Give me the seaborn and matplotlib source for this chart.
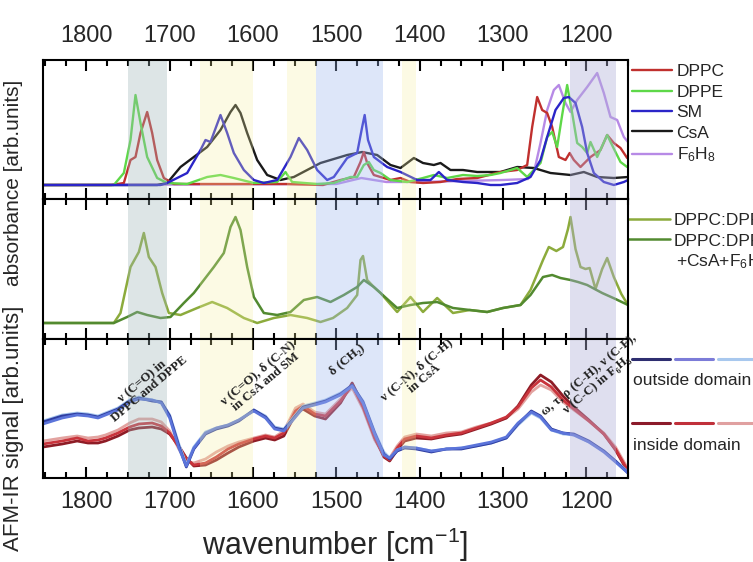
import numpy as np
import pandas as pd
import matplotlib
matplotlib.use("Agg")
import matplotlib.pyplot as plt
import seaborn as sns
from matplotlib.ticker import MultipleLocator
from matplotlib.lines import Line2D

# ---------------- top panel: absorbance of single components ----------------
dppc_wn = [1852, 1770, 1755, 1747, 1741, 1735, 1727, 1721, 1715, 1707, 1695, 1650, 1600, 1560, 1516, 1495,
           1479, 1471, 1467, 1463, 1455, 1435, 1423, 1411, 1396, 1375, 1355, 1331, 1303, 1283, 1271, 1265,
           1259, 1253, 1247, 1241, 1233, 1225, 1220, 1215, 1207, 1195, 1183, 1175, 1167, 1159, 1151]
dppc_val = [14, 14, 16, 39, 42, 66, 87, 66, 39, 21, 15, 15, 15, 15, 14, 19,
            22, 37, 47, 36, 24, 19, 21, 17, 16, 17, 20, 21, 27, 29, 34, 72,
            102, 89, 86, 72, 42, 39, 46, 39, 32, 42, 49, 64, 56, 51, 41]

dppe_wn = [1852, 1767, 1755, 1747, 1741, 1735, 1727, 1715, 1703, 1679, 1655, 1639, 1623, 1599, 1571, 1561,
           1553, 1523, 1503, 1483, 1475, 1467, 1461, 1455, 1447, 1435, 1415, 1396, 1383, 1367, 1348, 1331,
           1315, 1303, 1283, 1271, 1255, 1247, 1241, 1235, 1229, 1223, 1217, 1211, 1205, 1199, 1195, 1187,
           1175, 1168, 1159, 1151]
dppe_val = [14, 14, 26, 59, 104, 76, 42, 21, 16, 15, 22, 24, 21, 16, 17, 27,
            17, 15, 16, 22, 22, 34, 37, 29, 26, 19, 17, 21, 24, 21, 24, 23,
            24, 26, 31, 22, 36, 62, 67, 52, 84, 114, 86, 56, 52, 46, 57, 42,
            64, 52, 37, 32]

sm_wn = [1852, 1711, 1703, 1679, 1663, 1657, 1651, 1639, 1631, 1623, 1611, 1599, 1587, 1571, 1555, 1545,
         1535, 1523, 1511, 1503, 1487, 1475, 1469, 1466, 1462, 1455, 1439, 1423, 1403, 1387, 1377, 1367,
         1348, 1331, 1315, 1303, 1283, 1267, 1255, 1247, 1237, 1227, 1221, 1213, 1205, 1199, 1191, 1179,
         1167, 1155, 1150]
sm_val = [14, 14, 16, 26, 49, 59, 57, 84, 66, 46, 29, 19, 16, 19, 42, 61,
          49, 29, 19, 22, 41, 46, 72, 84, 59, 42, 32, 27, 19, 19, 27, 19,
          17, 16, 14, 14, 16, 22, 39, 62, 89, 101, 102, 96, 72, 46, 26, 17,
          14, 17, 19]

csa_wn = [1852, 1715, 1703, 1687, 1671, 1655, 1639, 1627, 1621, 1615, 1607, 1595, 1583, 1567, 1551, 1535,
          1519, 1503, 1487, 1469, 1451, 1435, 1423, 1407, 1396, 1383, 1375, 1363, 1348, 1331, 1315, 1303,
          1283, 1263, 1243, 1219, 1203, 1187, 1167, 1150]
csa_val = [14, 14, 16, 32, 42, 52, 69, 87, 94, 86, 66, 39, 24, 19, 22, 29,
           36, 40, 44, 47, 44, 34, 31, 41, 36, 34, 36, 29, 29, 27, 27, 27,
           32, 31, 26, 24, 27, 22, 21, 22]

f6h8_wn = [1852, 1500, 1470, 1440, 1400, 1350, 1300, 1270, 1262, 1255, 1247, 1239, 1233, 1225, 1219, 1211,
           1199, 1187, 1179, 1171, 1163, 1155, 1150]
f6h8_val = [14, 15, 21, 17, 17, 18, 19, 20, 30, 56, 89, 109, 114, 96, 87, 99,
            112, 126, 106, 82, 79, 62, 57]

# ---------------- middle panel: mixtures ----------------
mixA_wn = [1852, 1767, 1759, 1747, 1737, 1731, 1725, 1717, 1709, 1701, 1687, 1667, 1649, 1631, 1611, 1595,
           1575, 1555, 1535, 1519, 1504, 1487, 1475, 1471, 1468, 1463, 1455, 1447, 1427, 1411, 1396, 1379,
           1360, 1340, 1319, 1300, 1279, 1267, 1252, 1245, 1236, 1228, 1222, 1219, 1213, 1207, 1201, 1196,
           1189, 1181, 1175, 1167, 1158, 1150]
mixA_val = [16, 16, 26, 72, 87, 106, 82, 72, 46, 26, 24, 31, 37, 31, 21, 16,
            21, 24, 21, 17, 21, 31, 44, 79, 83, 59, 52, 46, 27, 42, 27, 41,
            26, 29, 27, 31, 34, 49, 79, 92, 88, 92, 110, 122, 90, 72, 70, 71,
            50, 70, 81, 62, 45, 34]

mixB_wn = [1852, 1767, 1751, 1739, 1727, 1711, 1699, 1683, 1671, 1659, 1647, 1635, 1627, 1621, 1615, 1607,
           1599, 1587, 1571, 1555, 1539, 1523, 1507, 1491, 1475, 1467, 1455, 1447, 1427, 1411, 1396, 1379,
           1360, 1340, 1319, 1300, 1279, 1267, 1252, 1241, 1231, 1219, 1210, 1199, 1181, 1165, 1150]
mixB_val = [16, 16, 22, 27, 24, 21, 22, 36, 46, 59, 72, 86, 112, 122, 109, 72,
            42, 26, 24, 27, 39, 42, 37, 44, 52, 59, 52, 46, 31, 34, 36, 37,
            31, 29, 27, 31, 34, 44, 62, 64, 61, 59, 57, 54, 46, 40, 34]

# ---------------- bottom panel: AFM-IR ----------------
afm_wn = [1852, 1829, 1811, 1798, 1786, 1777, 1762, 1748, 1737, 1721,
          1710, 1700, 1689, 1680, 1671, 1657, 1644, 1630, 1617, 1599,
          1585, 1574, 1563, 1549, 1540, 1526, 1513, 1495, 1481, 1468,
          1454, 1443, 1436, 1427, 1418, 1404, 1386, 1368, 1350, 1332,
          1314, 1296, 1282, 1266, 1255, 1242, 1228, 1215, 1197, 1179,
          1165, 1150]
out_1 = [56, 62, 64, 63, 61, 64, 69, 77, 80, 77, 76, 62, 32, 11, 29, 44, 49, 52, 57, 68,
         61, 50, 48, 62, 71, 74, 77, 84, 93, 76, 45, 24, 19, 27, 30, 29, 26, 29, 29, 32,
         35, 40, 54, 67, 62, 49, 45, 44, 37, 27, 17, 5]
out_2 = [54, 60, 63, 62, 60, 63, 68, 76, 79, 78, 75, 60, 30, 12, 30, 45, 50, 53, 58, 67,
         60, 49, 47, 61, 70, 73, 76, 83, 92, 75, 44, 23, 20, 28, 31, 30, 27, 29, 30, 33,
         36, 41, 55, 66, 61, 48, 45, 43, 36, 26, 16, 5]
out_3 = [57, 63, 65, 64, 62, 65, 70, 78, 81, 78, 76, 63, 34, 13, 31, 46, 50, 53, 58, 68,
         62, 51, 49, 63, 72, 75, 78, 85, 92, 77, 46, 26, 20, 28, 31, 30, 27, 29, 30, 32,
         35, 40, 53, 65, 60, 48, 44, 43, 36, 27, 17, 6]
in_1 = [31, 34, 37, 35, 35, 37, 42, 48, 50, 51, 49, 44, 32, 20, 12, 13, 18, 25, 31, 37,
        40, 38, 42, 64, 69, 62, 59, 75, 95, 73, 41, 21, 17, 28, 37, 40, 39, 42, 44, 49,
        54, 60, 72, 93, 103, 96, 82, 71, 58, 44, 28, 6]
in_2 = [34, 37, 40, 37, 38, 40, 45, 51, 54, 55, 52, 45, 31, 19, 13, 15, 21, 29, 34, 39,
        42, 40, 45, 67, 72, 64, 62, 77, 93, 71, 40, 22, 18, 30, 39, 42, 40, 43, 45, 50,
        55, 61, 71, 90, 98, 91, 78, 69, 57, 44, 29, 7]
in_3 = [37, 40, 42, 40, 41, 43, 48, 55, 59, 59, 56, 47, 29, 17, 15, 19, 26, 32, 36, 40,
        43, 41, 47, 70, 74, 66, 64, 79, 90, 69, 38, 23, 20, 32, 41, 44, 42, 45, 46, 51,
        55, 60, 69, 86, 93, 88, 76, 68, 57, 45, 31, 9]

# shaded bands (wavenumber ranges)
band_lo = [1703, 1600, 1525, 1444, 1404, 1165]
band_hi = [1750, 1664, 1559, 1525, 1421, 1220]
band_col = ['#9fb5b8', '#f5f0a0', '#f5f0a0', '#a0b8f0', '#f5f0a0', '#b0b0d8']
band_alpha = [0.35, 0.28, 0.28, 0.35, 0.28, 0.4]

# ---------------- style ----------------
sns.set_style("ticks")
plt.rcParams['font.family'] = ['Liberation Sans', 'DejaVu Sans']
plt.rcParams['mathtext.fontset'] = 'custom'
plt.rcParams['mathtext.rm'] = 'Liberation Sans'
plt.rcParams['mathtext.it'] = 'Liberation Sans:italic'

W, H = 753, 562
fig = plt.figure(figsize=(W / 100, H / 100), dpi=100)
L, R = 43 / W, 628 / W
edges = [60, 199, 339, 478]
axes = []
for i in range(3):
    y0 = 1 - edges[i + 1] / H
    h = (edges[i + 1] - edges[i]) / H
    axes.append(fig.add_axes([L, y0, R - L, h]))
ax1, ax2, ax3 = axes


def draw(ax, x, y, color, lw, label=None, alpha=1.0):
    df = pd.DataFrame({'wn': x, 'v': y})
    sns.lineplot(data=df, x='wn', y='v', ax=ax, color=color, lw=lw, alpha=alpha,
                 legend=False, sort=False, estimator=None)
    line = ax.lines[-1]
    line.set_solid_joinstyle('round')
    if label:
        line.set_label(label)
    return line


h_top = [
    draw(ax1, f6h8_wn, f6h8_val, '#b78ae6', 1.7, 'F$_6$H$_8$'),
    draw(ax1, csa_wn, csa_val, '#1a1a1a', 1.7, 'CsA'),
    draw(ax1, dppc_wn, dppc_val, '#c0302e', 1.7, 'DPPC'),
    draw(ax1, dppe_wn, dppe_val, '#5ed848', 1.7, 'DPPE'),
    draw(ax1, sm_wn, sm_val, '#2b25c8', 1.7, 'SM'),
]
order = ['DPPC', 'DPPE', 'SM', 'CsA', 'F$_6$H$_8$']
hmap = {h.get_label(): h for h in h_top}
ax1.legend([hmap[k] for k in order], order, loc='upper left', bbox_to_anchor=(1.0, 1.0),
           frameon=False, fontsize=12.5, handlelength=2.3, handletextpad=0.25,
           labelspacing=0.3, borderaxespad=0, borderpad=0.25)

hA = draw(ax2, mixA_wn, mixA_val, '#8cab3c', 1.8, 'DPPC:DPPE:SM')
hB = draw(ax2, mixB_wn, mixB_val, '#528a30', 1.8, 'DPPC:DPPE:SM')
ax2.legend([hA, hB], ['DPPC:DPPE:SM', 'DPPC:DPPE:SM'], loc='upper left', bbox_to_anchor=(1.0, 0.90),
           frameon=False, fontsize=12.5, handlelength=2.4, handletextpad=0.2,
           labelspacing=0.3, borderaxespad=0, borderpad=0.0)
ax2.text(1.082, 0.55, '+CsA+F$_6$H$_8$', transform=ax2.transAxes, fontsize=12.5,
         ha='left', va='center', clip_on=False)

draw(ax3, afm_wn, in_3, '#e3a3a0', 2.0)
draw(ax3, afm_wn, in_1, '#8e1c26', 2.0)
draw(ax3, afm_wn, in_2, '#c9343c', 2.0)
draw(ax3, afm_wn, out_3, '#a3c4ee', 2.0)
draw(ax3, afm_wn, out_1, '#2f3da0', 2.0)
draw(ax3, afm_wn, out_2, '#5b74da', 2.0)

# bottom legend drawn as dashed colour segments
seg_x = [(1.007, 1.072), (1.080, 1.145), (1.154, 1.23)]
for (x0, x1), c in zip(seg_x, ['#2e2e70', '#7c7cd8', '#a8c8ee']):
    ax3.add_line(Line2D([x0, x1], [0.856, 0.856], transform=ax3.transAxes, color=c, lw=2.2,
                        clip_on=False))
for (x0, x1), c in zip(seg_x, ['#8b1a2a', '#c0303a', '#e0a0a0']):
    ax3.add_line(Line2D([x0, x1], [0.396, 0.396], transform=ax3.transAxes, color=c, lw=2.2,
                        clip_on=False))
ax3.text(1.008, 0.705, 'outside domain', transform=ax3.transAxes, fontsize=12.5,
         ha='left', va='center', clip_on=False)
ax3.text(1.008, 0.237, 'inside domain', transform=ax3.transAxes, fontsize=12.5,
         ha='left', va='center', clip_on=False)

# annotations
ann = [
    (1729, 93, 'ν (C=O) in\nDPPC and DPPE'),
    (1589, 101, 'ν (C=O), δ (C-N)\nin CsA and SM'),
    (1487, 118, 'δ (CH₂)'),
    (1399, 104, 'ν (C-N), δ (C-H)\nin CsA'),
    (1192, 98, 'ω, τ, ρ (C-H), ν (C-F),\nν (C-C) in F₆H₈'),
]
for x, y, s in ann:
    ax3.text(x, y, s, rotation=40, ha='center', va='center', fontsize=9.3, fontweight='bold',
             family=['Liberation Serif', 'DejaVu Serif'], color='#222222', zorder=8,
             linespacing=1.0, rotation_mode='anchor')

ylims = [(0, 139), (0, 140), (0, 139)]
for ax, yl in zip(axes, ylims):
    for lo, hi, c, a in zip(band_lo, band_hi, band_col, band_alpha):
        ax.axvspan(lo, hi, color=c, alpha=a, lw=0, zorder=5)
    ax.set_xlim(1852, 1150)
    ax.set_ylim(*yl)
    ax.xaxis.set_major_locator(MultipleLocator(100))
    ax.xaxis.set_minor_locator(MultipleLocator(25))
    ax.tick_params(axis='x', which='both', direction='in', top=True, bottom=True,
                   labelbottom=False, labeltop=False, width=1.5, color='black')
    ax.tick_params(axis='x', which='major', length=8)
    ax.tick_params(axis='x', which='minor', length=4.5)
    ax.set_yticks([])
    ax.set_xlabel('')
    ax.set_ylabel('')
    for s in ax.spines.values():
        s.set_visible(True)
        s.set_linewidth(1.5)
        s.set_color('black')
        s.set_zorder(6)

ax1.tick_params(axis='x', labeltop=True, labelsize=17, pad=9)
ax3.tick_params(axis='x', labelbottom=True, labelsize=17, pad=9)

fig.text(335 / W, 1 - 545 / H, 'wavenumber [cm$^{-1}$]', fontsize=22, ha='center', va='center')
fig.text(14 / W, 1 - 183 / H, 'absorbance [arb.units]', fontsize=15, rotation=90,
         ha='center', va='center')
fig.text(14 / W, 1 - 428 / H, 'AFM-IR signal [arb.units]', fontsize=16, rotation=90,
         ha='center', va='center')

fig.savefig('out.png', dpi=100)
